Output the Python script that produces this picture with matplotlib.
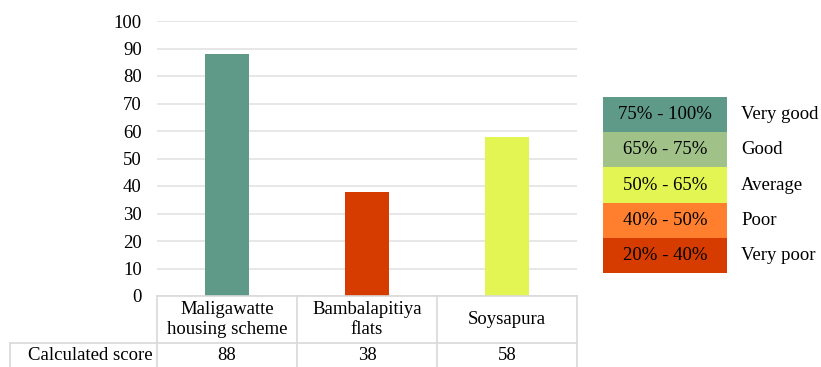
import matplotlib
matplotlib.use("Agg")
import matplotlib.pyplot as plt
from matplotlib.patches import Rectangle
from matplotlib.lines import Line2D

plt.rcParams['font.family'] = ['Liberation Serif', 'DejaVu Serif']

sites = ["Maligawatte\nhousing scheme", "Bambalapitiya\nflats", "Soysapura"]
scores = [88, 38, 58]
bar_colors = ["#5F9A88", "#D63B00", "#E3F553"]
row_label = "Calculated score"

band_ranges = ["75% - 100%", "65% - 75%", "50% - 65%", "40% - 50%", "20% - 40%"]
band_names = ["Very good", "Good", "Average", "Poor", "Very poor"]
band_colors = ["#5F9A88", "#A0C289", "#E3F553", "#FF7F2F", "#D63B00"]

FS = 13.5
W, H = 821, 367
fig = plt.figure(figsize=(W / 100, H / 100), dpi=100)

def fx(px):
    return px / W

def fy(py):
    return 1 - py / H

left, right, top, bottom = 157, 577, 21, 296
ax = fig.add_axes([fx(left), fy(bottom), fx(right - left), fy(top) - fy(bottom)])

x = range(len(sites))
ax.bar(x, scores, width=0.32, color=bar_colors, zorder=3)
ax.set_xlim(-0.5, len(sites) - 0.5)
ax.set_ylim(0, 100)
ax.set_yticks(range(0, 101, 10))
ax.tick_params(axis='y', length=0, labelsize=FS, pad=11)
ax.set_xticks([])
ax.grid(axis='y', color="#E3E3E3", linewidth=1.2, zorder=0)
for s in ax.spines.values():
    s.set_visible(False)

# data table below the plot
grid_col = "#D9D9D9"
col_edges = [157, 297, 437, 577]
row_split = 343
lines = [
    ((157, 577), (296, 296)),
    ((10, 577), (row_split, row_split)),
    ((10, 10), (row_split, H)),
]
for xe in col_edges:
    lines.append(((xe, xe), (296, H)))
for (xa, xb), (ya, yb) in lines:
    fig.add_artist(Line2D([fx(xa), fx(xb)], [fy(ya), fy(yb)], color=grid_col, linewidth=1.2))

for i, (name, val) in enumerate(zip(sites, scores)):
    cx = (col_edges[i] + col_edges[i + 1]) / 2
    fig.text(fx(cx), fy((296 + row_split) / 2), name, ha='center', va='center',
             fontsize=FS, linespacing=1.2)
    fig.text(fx(cx), fy((row_split + H) / 2 + 1), str(val), ha='center', va='center',
             fontsize=FS)
fig.text(fx(153), fy((row_split + H) / 2 + 1), row_label, ha='right', va='center', fontsize=FS)

# rating bands key
kx0, kx1 = 603, 727
ky0, kh = 97, 35.2
for i, (rng, nm, c) in enumerate(zip(band_ranges, band_names, band_colors)):
    y0 = ky0 + i * kh
    fig.add_artist(Rectangle((fx(kx0), fy(y0 + kh)), fx(kx1 - kx0), fy(y0) - fy(y0 + kh),
                             facecolor=c, edgecolor='none'))
    fig.text(fx((kx0 + kx1) / 2), fy(y0 + kh / 2), rng, ha='center', va='center', fontsize=FS)
    fig.text(fx(741), fy(y0 + kh / 2), nm, ha='left', va='center', fontsize=FS)

fig.savefig("out.png", dpi=100, facecolor='white')
